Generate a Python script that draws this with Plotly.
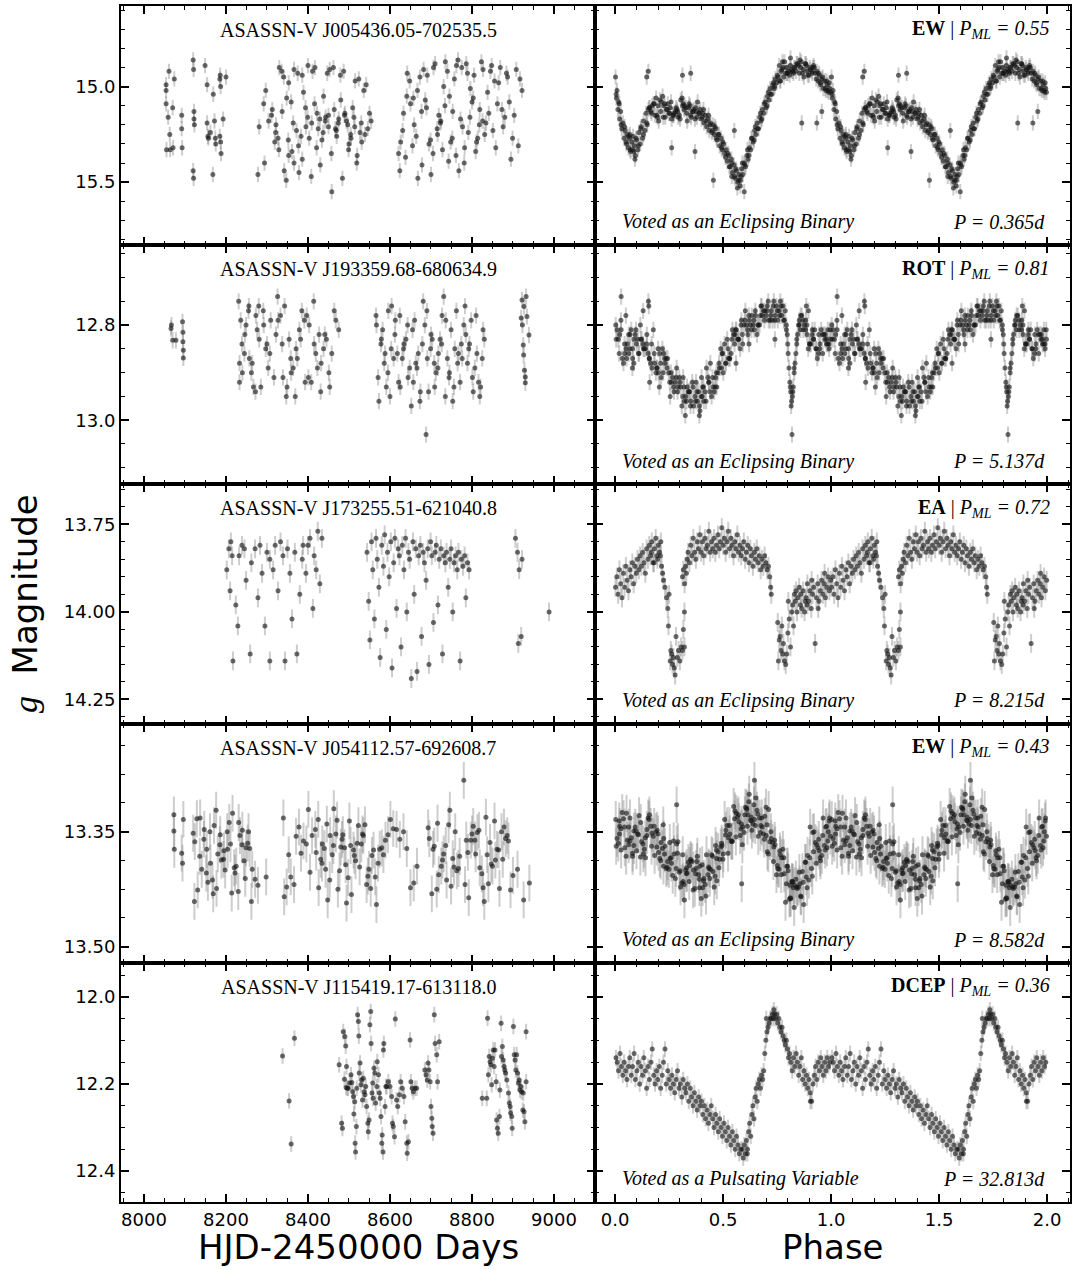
import plotly.graph_objects as go
from plotly.subplots import make_subplots

# ---------------- star 1 : EW, P = 0.365 d ----------------
hjd_1 = [
    8054, 8054, 8054, 8055, 8059, 8061, 8063, 8064, 8070, 8071,
    8074, 8092, 8092, 8093, 8120, 8121, 8122, 8122, 8123, 8121,
    8120, 8149, 8154, 8154, 8156, 8157, 8169, 8168, 8172, 8174,
    8175, 8185, 8186, 8187, 8185, 8187, 8188, 8193, 8200, 8162,
    8294, 8313, 8278, 8321, 8304, 8281, 8319, 8297, 8292, 8311,
    8341, 8329, 8347, 8322, 8336, 8348, 8327, 8342, 8330, 8337,
    8353, 8364, 8375, 8359, 8366, 8352, 8366, 8353, 8372, 8361,
    8399, 8386, 8378, 8394, 8383, 8400, 8389, 8377, 8395, 8386,
    8411, 8422, 8403, 8429, 8417, 8408, 8425, 8416, 8409, 8421,
    8447, 8437, 8450, 8430, 8442, 8453, 8434, 8450, 8438, 8443,
    8458, 8469, 8479, 8464, 8474, 8457, 8470, 8462, 8475, 8467,
    8500, 8490, 8484, 8497, 8487, 8504, 8494, 8480, 8499, 8489,
    8514, 8524, 8505, 8530, 8519, 8509, 8527, 8515, 8512, 8520,
    8546, 8536, 8554, 8531, 8542, 8550, 8539,
    8641, 8626, 8648, 8621, 8633, 8650, 8624, 8642, 8631, 8638,
    8657, 8668, 8682, 8664, 8677, 8655, 8673, 8659, 8678, 8667,
    8710, 8699, 8689, 8705, 8691, 8715, 8700, 8686, 8706, 8695,
    8724, 8735, 8716, 8743, 8731, 8719, 8740, 8728, 8723, 8734,
    8762, 8752, 8768, 8745, 8757, 8772, 8748, 8766, 8753, 8761,
    8777, 8789, 8800, 8782, 8795, 8775, 8791, 8781, 8796, 8786,
    8826, 8814, 8805, 8819, 8809, 8827, 8818, 8803, 8823, 8811,
    8841, 8855, 8831, 8862, 8848, 8834, 8858, 8845, 8838, 8851,
    8887, 8873, 8895, 8865, 8880, 8899, 8869, 8891, 8876, 8884,
    8913, 8922, 8903, 8917, 8908,
]
mag_1 = [
    14.99, 15.02, 15.09, 15.33, 15.16, 14.92, 15.25, 15.33, 15.11, 15.32,
    14.96, 15.15, 15.22, 15.32, 14.86, 14.91, 15.13, 15.17, 15.20, 15.48,
    15.44, 14.89, 14.99, 15.19, 15.26, 15.27, 15.04, 15.46, 15.18, 15.27,
    15.30, 14.96, 14.94, 15.00, 15.26, 15.29, 15.35, 15.17, 14.95, 15.24,
    15.40, 15.12, 15.46, 15.24, 15.18, 15.21, 15.29, 15.02, 15.09, 15.15,
    14.95, 15.33, 15.49, 15.20, 14.92, 15.06, 15.27, 15.44, 14.90, 15.13,
    15.36, 15.19, 14.93, 15.08, 15.40, 15.28, 14.91, 14.98, 15.23, 15.34,
    15.16, 14.94, 15.45, 15.11, 15.26, 14.89, 15.03, 15.31, 15.21, 15.38,
    14.92, 15.14, 15.27, 15.17, 14.90, 15.47, 15.22, 15.09, 15.19, 15.32,
    14.93, 15.24, 15.15, 15.41, 15.18, 14.91, 15.28, 15.21, 15.05, 15.16,
    15.55, 15.23, 14.94, 15.12, 15.19, 15.35, 15.26, 14.90, 15.17, 15.22,
    15.30, 15.14, 15.48, 15.20, 14.92, 15.25, 15.18, 15.07, 15.33, 15.15,
    15.21, 14.96, 15.27, 15.19, 15.40, 15.11, 15.24, 14.97, 15.16, 15.36,
    15.22, 15.02, 15.18, 15.29, 14.99, 15.14, 15.25,
    15.05, 15.29, 14.97, 15.35, 15.14, 15.09, 15.44, 14.93, 15.23, 15.37,
    15.06, 15.48, 14.91, 15.26, 15.13, 15.31, 14.95, 15.20, 15.41, 15.02,
    14.88, 15.28, 15.11, 15.35, 14.94, 15.22, 15.46, 15.07, 14.90, 15.30,
    15.18, 14.87, 15.25, 15.39, 15.00, 15.15, 14.92, 15.33, 15.19, 15.10,
    14.89, 15.27, 15.44, 15.05, 14.96, 15.17, 15.29, 14.86, 15.13, 15.36,
    15.21, 14.93, 15.08, 15.32, 15.16, 14.90, 15.24, 15.40, 15.01, 14.88,
    15.18, 15.27, 14.94, 15.12, 15.34, 14.91, 15.20, 15.06, 14.87, 15.29,
    15.14, 14.97, 15.25, 15.09, 14.89, 15.19, 15.32, 14.92, 15.03, 15.23,
    14.95, 15.12, 15.38, 14.98, 15.16, 15.27, 14.90, 15.08, 15.21, 14.93,
    15.31, 15.02, 15.15, 14.96, 14.91,
]
phase_1 = [
    0.002, 0.006, 0.009, 0.013, 0.017, 0.021, 0.026, 0.031, 0.036, 0.041,
    0.046, 0.051, 0.056, 0.062, 0.067, 0.072, 0.078, 0.083, 0.089, 0.094,
    0.099, 0.105, 0.110, 0.116, 0.121, 0.127, 0.132, 0.138, 0.143, 0.149,
    0.172, 0.196, 0.154, 0.208, 0.184, 0.160, 0.202, 0.178, 0.166, 0.190,
    0.250, 0.226, 0.262, 0.214, 0.238, 0.268, 0.220, 0.256, 0.232, 0.244,
    0.280, 0.304, 0.328, 0.292, 0.316, 0.274, 0.310, 0.286, 0.322, 0.298,
    0.382, 0.358, 0.340, 0.370, 0.346, 0.388, 0.364, 0.334, 0.376, 0.352,
    0.394, 0.400, 0.406, 0.412, 0.418, 0.424, 0.430, 0.436, 0.442, 0.448,
    0.454, 0.460, 0.466, 0.472, 0.478, 0.484, 0.490, 0.496, 0.502, 0.508,
    0.514, 0.520, 0.526, 0.532, 0.538, 0.544, 0.550, 0.556, 0.562, 0.568,
    0.574, 0.580, 0.586, 0.592, 0.598, 0.604, 0.610, 0.616, 0.622, 0.628,
    0.634, 0.640, 0.646, 0.652, 0.658, 0.664, 0.670, 0.676, 0.682, 0.688,
    0.694, 0.700, 0.706, 0.712, 0.718, 0.724, 0.730, 0.736, 0.742, 0.748,
    0.790, 0.766, 0.802, 0.754, 0.778, 0.808, 0.760, 0.796, 0.772, 0.784,
    0.820, 0.844, 0.868, 0.832, 0.856, 0.814, 0.850, 0.826, 0.862, 0.838,
    0.922, 0.898, 0.880, 0.910, 0.886, 0.928, 0.904, 0.874, 0.916, 0.892,
    0.934, 0.940, 0.946, 0.952, 0.958, 0.964, 0.970, 0.976, 0.982, 0.988,
    0.994, 0.262, 0.370, 0.455, 0.552, 0.864, 0.934, 0.957, 0.146, 0.312,
    0.350, 0.154, 0.598, 0.092, 0.070, 0.540, 0.566, 0.580, 0.775, 0.812,
    0.005, 0.019, 0.028, 0.044, 0.053, 0.069, 0.081, 0.097, 0.108, 0.119,
    0.131, 0.147, 0.158, 0.169, 0.181, 0.193, 0.199, 0.211, 0.223, 0.229,
    0.241, 0.253, 0.259, 0.271, 0.283, 0.289, 0.301, 0.313, 0.319, 0.331,
    0.343, 0.349, 0.361, 0.373, 0.379, 0.391, 0.403, 0.409, 0.421, 0.433,
    0.439, 0.451, 0.463, 0.469, 0.481, 0.493, 0.499, 0.511, 0.523, 0.529,
    0.541, 0.553, 0.559, 0.571, 0.583, 0.589, 0.601, 0.613, 0.619, 0.631,
    0.643, 0.649, 0.661, 0.673, 0.679, 0.691, 0.703, 0.709, 0.721, 0.733,
    0.739, 0.751, 0.763, 0.769, 0.781, 0.793, 0.799, 0.811, 0.823, 0.829,
    0.841, 0.853, 0.859, 0.871, 0.883, 0.889, 0.901, 0.913, 0.919, 0.931,
    0.943, 0.949, 0.961, 0.973, 0.979, 0.985, 0.991, 0.997, 0.063, 0.087,
]
phase_mag_1 = [
    14.95, 15.06, 15.02, 15.12, 15.08, 15.17, 15.13, 15.22, 15.19, 15.27,
    15.23, 15.29, 15.25, 15.32, 15.27, 15.34, 15.29, 15.26, 15.31, 15.36,
    15.28, 15.33, 15.24, 15.30, 15.21, 15.27, 15.18, 15.23, 15.14, 15.20,
    15.10, 15.16, 15.12, 15.07, 15.15, 15.11, 15.18, 15.09, 15.13, 15.06,
    15.14, 15.10, 15.17, 15.08, 15.12, 15.15, 15.05, 15.11, 15.16, 15.09,
    15.13, 15.07, 15.11, 15.16, 15.09, 15.14, 15.06, 15.12, 15.10, 15.15,
    15.08, 15.13, 15.11, 15.17, 15.10, 15.14, 15.12, 15.18, 15.13, 15.16,
    15.12, 15.17, 15.14, 15.19, 15.15, 15.21, 15.17, 15.23, 15.19, 15.24,
    15.20, 15.25, 15.22, 15.28, 15.25, 15.31, 15.27, 15.33, 15.30, 15.35,
    15.33, 15.39, 15.36, 15.42, 15.38, 15.45, 15.41, 15.48, 15.44, 15.50,
    15.46, 15.52, 15.43, 15.46, 15.40, 15.42, 15.36, 15.38, 15.32, 15.33,
    15.27, 15.29, 15.23, 15.25, 15.19, 15.22, 15.16, 15.18, 15.12, 15.14,
    15.08, 15.11, 15.05, 15.07, 15.01, 15.04, 14.99, 15.01, 14.96, 14.98,
    14.93, 14.97, 14.92, 14.95, 14.90, 14.94, 14.89, 14.93, 14.91, 14.87,
    14.92, 14.88, 14.93, 14.90, 14.86, 14.91, 14.89, 14.93, 14.87, 14.92,
    14.90, 14.94, 14.88, 14.92, 14.89, 14.93, 14.91, 14.95, 14.90, 14.94,
    14.92, 14.97, 14.94, 14.99, 14.96, 15.01, 14.97, 15.02, 14.99, 15.03,
    15.01, 15.32, 15.34, 15.49, 15.23, 15.19, 15.19, 15.13, 14.95, 14.94,
    14.93, 14.92, 15.55, 15.38, 15.33, 15.47, 15.53, 15.49, 14.87, 14.85,
    15.04, 15.09, 15.20, 15.21, 15.30, 15.25, 15.33, 15.27, 15.31, 15.22,
    15.25, 15.19, 15.11, 15.14, 15.09, 15.15, 15.10, 15.13, 15.16, 15.09,
    15.12, 15.14, 15.08, 15.15, 15.11, 15.13, 15.17, 15.10, 15.12, 15.14,
    15.09, 15.15, 15.13, 15.11, 15.16, 15.14, 15.16, 15.12, 15.18, 15.15,
    15.20, 15.23, 15.21, 15.27, 15.25, 15.32, 15.29, 15.37, 15.35, 15.42,
    15.40, 15.47, 15.43, 15.49, 15.47, 15.40, 15.41, 15.33, 15.36, 15.27,
    15.28, 15.21, 15.22, 15.14, 15.17, 15.09, 15.10, 15.03, 15.04, 14.98,
    15.00, 14.94, 14.97, 14.92, 14.95, 14.90, 14.93, 14.89, 14.92, 14.90,
    14.88, 14.93, 14.90, 14.91, 14.88, 14.92, 14.90, 14.93, 14.89, 14.96,
    14.93, 14.98, 14.95, 15.01, 14.97, 15.02, 14.98, 15.03, 15.26, 15.34,
]

# ---------------- star 2 : ROT, P = 5.137 d ----------------
hjd_2 = [
    8066, 8070, 8078, 8067, 8094, 8095, 8095, 8096, 8096,
    8233, 8240, 8255, 8236, 8246, 8231, 8245, 8233, 8249, 8239,
    8280, 8267, 8257, 8273, 8262, 8281, 8272, 8256, 8276, 8264,
    8297, 8309, 8285, 8322, 8303, 8291, 8317, 8300, 8292, 8307,
    8347, 8333, 8354, 8326, 8339, 8358, 8327, 8349, 8337, 8343,
    8364, 8379, 8393, 8371, 8385, 8359, 8382, 8369, 8391, 8374,
    8427, 8414, 8401, 8419, 8403, 8431, 8415, 8397, 8423, 8408,
    8445, 8464, 8432, 8475, 8453, 8438, 8468, 8451, 8441, 8458,
    8582, 8571, 8588, 8566, 8578, 8591, 8567, 8586, 8573, 8579,
    8596, 8609, 8621, 8603, 8613, 8595, 8612, 8600, 8618, 8604,
    8648, 8634, 8625, 8643, 8630, 8652, 8639, 8624, 8644, 8633,
    8663, 8674, 8655, 8681, 8669, 8657, 8679, 8666, 8660, 8673,
    8703, 8691, 8709, 8685, 8699, 8712, 8690, 8708, 8694, 8700,
    8718, 8731, 8744, 8726, 8736, 8717, 8735, 8722, 8740, 8727,
    8771, 8758, 8749, 8765, 8753, 8774, 8762, 8745, 8767, 8756,
    8785, 8798, 8776, 8803, 8792, 8780, 8801, 8789, 8783, 8794,
    8821, 8812, 8827, 8807, 8819, 8830, 8810, 8825, 8816, 8688,
    8920, 8922, 8923, 8925, 8926, 8927, 8928, 8930, 8930, 8932, 8934, 8939,
]
mag_2 = [
    12.807, 12.832, 12.832, 12.800, 12.793, 12.815, 12.835, 12.853, 12.869,
    12.88, 12.90, 12.77, 12.79, 12.82, 12.75, 12.86, 12.92, 12.80, 12.84,
    12.76, 12.93, 12.87, 12.78, 12.90, 12.83, 12.94, 12.76, 12.81, 12.88,
    12.85, 12.79, 12.93, 12.82, 12.89, 12.77, 12.91, 12.84, 12.80, 12.86,
    12.95, 12.78, 12.83, 12.74, 12.91, 12.87, 12.79, 12.93, 12.84, 12.76,
    12.89, 12.81, 12.92, 12.85, 12.77, 12.90, 12.83, 12.95, 12.79, 12.87,
    12.82, 12.75, 12.91, 12.86, 12.80, 12.94, 12.84, 12.78, 12.89, 12.92,
    12.83, 12.77, 12.88, 12.81, 12.93, 12.85, 12.79, 12.90, 12.82, 12.86,
    12.81, 12.91, 12.86, 12.78, 12.84, 12.93, 12.80, 12.88, 12.96, 12.83,
    12.77, 12.87, 12.92, 12.85, 12.79, 12.90, 12.82, 12.95, 12.86, 12.76,
    12.89, 12.84, 12.93, 12.80, 12.87, 12.97, 12.83, 12.78, 12.91, 12.85,
    12.88, 12.94, 12.81, 12.75, 12.86, 12.92, 12.84, 12.89, 12.79, 12.96,
    12.83, 12.87, 12.93, 12.80, 12.85, 12.90, 12.77, 12.88, 12.94, 12.82,
    12.86, 12.74, 12.91, 12.84, 12.79, 12.89, 12.95, 12.83, 12.87, 12.78,
    12.92, 12.85, 12.81, 12.88, 12.96, 12.84, 12.77, 12.90, 12.86, 12.93,
    12.82, 12.79, 12.87, 12.94, 12.85, 12.80, 12.91, 12.88, 12.76, 12.84,
    12.93, 12.86, 12.81, 12.89, 12.95, 12.83, 12.78, 12.87, 12.92, 13.03,
    12.785, 12.747, 12.800, 12.842, 12.863, 12.761, 12.895, 12.909, 12.921, 12.740, 12.782, 12.821,
]
phase_2 = [
    0.021, 0.045, 0.003, 0.057, 0.033, 0.009, 0.051, 0.027, 0.015, 0.039,
    0.099, 0.075, 0.111, 0.063, 0.087, 0.117, 0.069, 0.105, 0.081, 0.093,
    0.129, 0.153, 0.177, 0.141, 0.165, 0.123, 0.159, 0.135, 0.171, 0.147,
    0.231, 0.207, 0.189, 0.219, 0.195, 0.237, 0.213, 0.183, 0.225, 0.201,
    0.261, 0.285, 0.243, 0.297, 0.273, 0.249, 0.291, 0.267, 0.255, 0.279,
    0.339, 0.315, 0.351, 0.303, 0.327, 0.357, 0.309, 0.345, 0.321, 0.333,
    0.369, 0.393, 0.417, 0.381, 0.405, 0.363, 0.399, 0.375, 0.411, 0.387,
    0.471, 0.447, 0.429, 0.459, 0.435, 0.477, 0.453, 0.423, 0.465, 0.441,
    0.501, 0.525, 0.483, 0.537, 0.513, 0.489, 0.531, 0.507, 0.495, 0.519,
    0.579, 0.555, 0.591, 0.543, 0.567, 0.597, 0.549, 0.585, 0.561, 0.573,
    0.609, 0.633, 0.657, 0.621, 0.645, 0.603, 0.639, 0.615, 0.651, 0.627,
    0.711, 0.687, 0.669, 0.699, 0.675, 0.717, 0.693, 0.663, 0.705, 0.681,
    0.723, 0.729, 0.735, 0.741, 0.747, 0.753, 0.759, 0.765, 0.771, 0.777,
    0.783, 0.788, 0.793, 0.797, 0.801, 0.805, 0.809, 0.813, 0.817, 0.821,
    0.825, 0.829, 0.833, 0.837, 0.841, 0.845, 0.849, 0.853, 0.858, 0.864,
    0.888, 0.912, 0.870, 0.924, 0.900, 0.876, 0.918, 0.894, 0.882, 0.906,
    0.966, 0.942, 0.978, 0.930, 0.954, 0.984, 0.936, 0.972, 0.948, 0.960,
    0.990, 0.996, 0.028, 0.154, 0.156, 0.130, 0.160, 0.819, 0.815, 0.205,
    0.325, 0.390, 0.400, 0.560, 0.740, 0.885, 0.895, 0.080, 0.050, 0.620,
    0.005, 0.019, 0.028, 0.044, 0.053, 0.069, 0.081, 0.097, 0.108, 0.119,
    0.131, 0.147, 0.158, 0.169, 0.181, 0.193, 0.199, 0.211, 0.223, 0.229,
    0.241, 0.253, 0.259, 0.271, 0.283, 0.289, 0.301, 0.313, 0.319, 0.331,
    0.343, 0.349, 0.361, 0.373, 0.379, 0.391, 0.403, 0.409, 0.421, 0.433,
    0.439, 0.451, 0.463, 0.469, 0.481, 0.493, 0.499, 0.511, 0.523, 0.529,
    0.541, 0.553, 0.559, 0.571, 0.583, 0.589, 0.601, 0.613, 0.619, 0.631,
    0.643, 0.649, 0.661, 0.673, 0.679, 0.691, 0.703, 0.709, 0.721, 0.733,
    0.739, 0.751, 0.763, 0.769, 0.781, 0.793, 0.799, 0.811, 0.823, 0.829,
    0.841, 0.853, 0.859, 0.871, 0.883, 0.889, 0.901, 0.913, 0.919, 0.931,
    0.943, 0.949, 0.961, 0.973, 0.979, 0.985, 0.991, 0.997, 0.063, 0.087,
]
phase_mag_2 = [
    12.82, 12.86, 12.80, 12.84, 12.87, 12.81, 12.85, 12.79, 12.83, 12.88,
    12.84, 12.81, 12.86, 12.82, 12.88, 12.80, 12.85, 12.83, 12.87, 12.82,
    12.84, 12.86, 12.81, 12.85, 12.88, 12.83, 12.87, 12.85, 12.89, 12.84,
    12.88, 12.86, 12.90, 12.85, 12.89, 12.87, 12.91, 12.88, 12.86, 12.90,
    12.92, 12.89, 12.87, 12.91, 12.94, 12.90, 12.93, 12.91, 12.95, 12.92,
    12.94, 12.91, 12.96, 12.93, 12.95, 12.92, 12.97, 12.94, 12.96, 12.93,
    12.95, 12.98, 12.94, 12.96, 12.93, 12.97, 12.95, 12.92, 12.96, 12.94,
    12.93, 12.95, 12.91, 12.94, 12.92, 12.90, 12.93, 12.89, 12.91, 12.88,
    12.90, 12.87, 12.89, 12.86, 12.88, 12.85, 12.87, 12.84, 12.86, 12.83,
    12.85, 12.82, 12.84, 12.81, 12.83, 12.80, 12.82, 12.79, 12.81, 12.83,
    12.80, 12.78, 12.82, 12.79, 12.81, 12.77, 12.80, 12.82, 12.78, 12.80,
    12.79, 12.77, 12.80, 12.78, 12.76, 12.79, 12.77, 12.80, 12.76, 12.78,
    12.77, 12.79, 12.75, 12.78, 12.76, 12.79, 12.77, 12.75, 12.78, 12.76,
    12.79, 12.77, 12.80, 12.82, 12.86, 12.89, 12.92, 12.94, 12.96, 12.95,
    12.93, 12.90, 12.88, 12.86, 12.84, 12.82, 12.80, 12.79, 12.81, 12.78,
    12.80, 12.82, 12.79, 12.81, 12.84, 12.80, 12.83, 12.85, 12.81, 12.84,
    12.82, 12.86, 12.83, 12.85, 12.81, 12.84, 12.87, 12.83, 12.85, 12.82,
    12.84, 12.81, 12.74, 12.75, 12.76, 12.77, 12.92, 13.03, 12.97, 12.93,
    12.99, 12.99, 12.91, 12.88, 12.83, 12.76, 12.77, 12.89, 12.78, 12.84,
    12.83, 12.86, 12.81, 12.84, 12.87, 12.82, 12.85, 12.81, 12.86, 12.83,
    12.85, 12.82, 12.87, 12.84, 12.86, 12.89, 12.85, 12.88, 12.90, 12.87,
    12.89, 12.92, 12.90, 12.93, 12.91, 12.94, 12.92, 12.95, 12.93, 12.96,
    12.94, 12.97, 12.93, 12.96, 12.94, 12.97, 12.95, 12.93, 12.96, 12.92,
    12.94, 12.91, 12.93, 12.90, 12.88, 12.89, 12.86, 12.88, 12.85, 12.87,
    12.83, 12.84, 12.81, 12.83, 12.80, 12.82, 12.79, 12.81, 12.78, 12.81,
    12.79, 12.77, 12.80, 12.78, 12.76, 12.79, 12.77, 12.75, 12.78, 12.76,
    12.79, 12.77, 12.78, 12.76, 12.79, 12.81, 12.84, 12.93, 12.94, 12.89,
    12.83, 12.80, 12.78, 12.81, 12.79, 12.82, 12.84, 12.81, 12.83, 12.85,
    12.82, 12.84, 12.86, 12.82, 12.84, 12.81, 12.85, 12.83, 12.86, 12.83,
]

# ---------------- star 3 : EA, P = 8.215 d ----------------
hjd_3 = [
    8202, 8207, 8210, 8215, 8217, 8224, 8229, 8239, 8249, 8259,
    8271, 8278, 8288, 8295, 8307, 8307, 8320, 8327, 8339, 8344,
    8356, 8361, 8368, 8373, 8380, 8388, 8395, 8405, 8412, 8420,
    8424, 8429, 8434, 8212, 8232, 8245, 8262, 8283, 8300, 8315,
    8333, 8350, 8386, 8400, 8415,
    8544, 8548, 8551, 8555, 8558, 8562, 8566, 8569, 8573, 8576,
    8580, 8584, 8587, 8591, 8594, 8598, 8602, 8605, 8609, 8612,
    8616, 8620, 8623, 8627, 8630, 8634, 8638, 8641, 8645, 8648,
    8652, 8656, 8659, 8663, 8666, 8670, 8674, 8677, 8681, 8684,
    8688, 8692, 8695, 8699, 8702, 8706, 8710, 8713, 8717, 8720,
    8724, 8728, 8731, 8735, 8738, 8742, 8746, 8749, 8753, 8756,
    8760, 8764, 8767, 8771, 8774, 8778, 8782, 8785, 8789, 8793,
    8906, 8911, 8915, 8913, 8920, 8922, 8988,
]
mag_3 = [
    13.88, 13.82, 13.94, 13.84, 14.14, 13.98, 14.04, 13.81, 13.91, 14.12,
    13.82, 13.96, 13.89, 14.04, 13.85, 14.14, 13.81, 13.94, 13.84, 14.14,
    13.89, 14.02, 13.83, 14.12, 13.95, 13.81, 13.89, 13.79, 13.99, 13.88,
    13.77, 13.92, 13.79, 13.80, 13.84, 13.82, 13.86, 13.81, 13.83, 13.88,
    13.80, 13.82, 13.85, 13.81, 13.84,
    13.83, 13.97, 14.08, 13.80, 13.88, 14.02, 13.79, 13.85, 13.93, 14.13,
    13.81, 13.87, 13.78, 14.05, 13.83, 13.90, 13.80, 14.16, 13.86, 13.79,
    13.99, 13.82, 13.84, 14.10, 13.81, 13.88, 13.79, 14.00, 13.83, 13.85,
    14.19, 13.80, 13.95, 13.82, 14.17, 13.84, 13.81, 14.07, 13.83, 13.86,
    13.91, 13.82, 14.15, 13.80, 13.84, 14.03, 13.83, 13.81, 13.98, 13.85,
    13.82, 14.12, 13.84, 13.86, 13.83, 13.93, 13.85, 13.82, 14.00, 13.86,
    13.84, 13.88, 13.83, 14.14, 13.85, 13.87, 13.84, 13.96, 13.86, 13.88,
    13.79, 13.83, 13.88, 14.09, 14.07, 13.85, 14.00,
]
phase_3 = [
    0.002, 0.008, 0.014, 0.020, 0.026, 0.032, 0.038, 0.044, 0.050, 0.056,
    0.062, 0.068, 0.074, 0.080, 0.086, 0.092, 0.098, 0.104, 0.110, 0.116,
    0.122, 0.128, 0.134, 0.140, 0.146, 0.152, 0.158, 0.164, 0.170, 0.176,
    0.182, 0.188, 0.194, 0.200, 0.206, 0.212, 0.180, 0.168, 0.196, 0.210,
    0.215, 0.220, 0.224, 0.231, 0.238, 0.244, 0.247, 0.250, 0.255, 0.258,
    0.262, 0.266, 0.270, 0.274, 0.278, 0.282, 0.288, 0.294, 0.300, 0.306,
    0.312, 0.316, 0.321, 0.321, 0.312, 0.316, 0.322, 0.326, 0.330, 0.334,
    0.338, 0.344, 0.350, 0.356, 0.362, 0.368, 0.374, 0.380, 0.386, 0.392,
    0.398, 0.404, 0.410, 0.416, 0.422, 0.428, 0.434, 0.440, 0.446, 0.452,
    0.458, 0.464, 0.470, 0.476, 0.482, 0.488, 0.494, 0.500, 0.506, 0.512,
    0.518, 0.524, 0.530, 0.536, 0.542, 0.548, 0.554, 0.560, 0.566, 0.572,
    0.578, 0.584, 0.590, 0.596, 0.602, 0.608, 0.614, 0.620, 0.626, 0.632,
    0.638, 0.644, 0.650, 0.656, 0.662, 0.668, 0.674, 0.680, 0.686, 0.692,
    0.698, 0.704, 0.710, 0.716, 0.720, 0.723, 0.753, 0.756, 0.760, 0.764,
    0.768, 0.772, 0.776, 0.779, 0.784, 0.790, 0.795, 0.800, 0.802, 0.806,
    0.812, 0.818, 0.822, 0.826, 0.830, 0.834, 0.838, 0.842, 0.846, 0.852,
    0.858, 0.864, 0.870, 0.877, 0.884, 0.890, 0.896, 0.902, 0.908, 0.914,
    0.920, 0.926, 0.932, 0.938, 0.944, 0.950, 0.956, 0.962, 0.968, 0.974,
    0.980, 0.986, 0.992, 0.998, 0.860, 0.890, 0.940, 0.970, 0.910, 0.880,
]
phase_mag_3 = [
    13.93, 13.90, 13.95, 13.88, 13.92, 13.96, 13.89, 13.93, 13.87, 13.91,
    13.94, 13.88, 13.90, 13.86, 13.92, 13.87, 13.89, 13.85, 13.88, 13.84,
    13.87, 13.83, 13.86, 13.89, 13.82, 13.85, 13.81, 13.84, 13.80, 13.86,
    13.82, 13.79, 13.84, 13.81, 13.83, 13.80, 13.86, 13.83, 13.85, 13.84,
    13.87, 13.89, 13.91, 13.93, 13.96, 13.99, 14.04, 13.95, 14.14, 14.11,
    14.12, 14.15, 14.13, 14.16, 14.18, 14.07, 14.13, 14.11, 14.14, 14.10,
    14.11, 14.05, 14.10, 14.00, 13.90, 13.88, 13.92, 13.87, 13.89, 13.85,
    13.83, 13.86, 13.81, 13.84, 13.79, 13.83, 13.85, 13.80, 13.82, 13.78,
    13.83, 13.80, 13.84, 13.79, 13.82, 13.81, 13.77, 13.83, 13.80, 13.82,
    13.79, 13.83, 13.81, 13.78, 13.82, 13.80, 13.76, 13.81, 13.79, 13.83,
    13.80, 13.77, 13.82, 13.79, 13.81, 13.84, 13.80, 13.82, 13.78, 13.83,
    13.81, 13.84, 13.82, 13.80, 13.85, 13.83, 13.81, 13.86, 13.82, 13.84,
    13.87, 13.83, 13.85, 13.82, 13.86, 13.84, 13.88, 13.85, 13.87, 13.84,
    13.86, 13.88, 13.87, 13.90, 13.93, 13.95, 14.03, 14.14, 14.08, 14.07,
    14.11, 14.04, 14.12, 14.09, 14.14, 14.15, 14.12, 14.06, 13.97, 14.02,
    14.10, 14.00, 13.98, 14.04, 13.95, 13.97, 13.94, 14.00, 13.96, 13.93,
    13.98, 13.99, 13.94, 14.00, 13.96, 13.92, 13.97, 13.94, 13.99, 13.95,
    13.93, 14.09, 13.96, 13.92, 13.97, 13.94, 13.91, 13.95, 13.92, 13.96,
    13.93, 13.90, 13.94, 13.91, 13.95, 13.98, 13.99, 13.89, 13.91, 13.97,
]

# ---------------- star 4 : EW, P = 8.582 d ----------------
hjd_4 = [
    8073, 8073, 8074, 8092, 8094, 8096, 8120, 8123, 8124, 8129,
    8141, 8153, 8131, 8161, 8147, 8136, 8156, 8146, 8137, 8152,
    8180, 8169, 8186, 8162, 8176, 8189, 8167, 8185, 8171, 8177,
    8195, 8208, 8220, 8203, 8214, 8194, 8211, 8198, 8216, 8204,
    8247, 8234, 8225, 8240, 8230, 8249, 8239, 8222, 8244, 8231,
    8262, 8253, 8271, 8255, 8264, 8258, 8278, 8298,
    8371, 8348, 8383, 8340, 8358, 8389, 8342, 8378, 8353, 8366,
    8401, 8420, 8434, 8410, 8426, 8396, 8425, 8405, 8431, 8418,
    8462, 8448, 8440, 8454, 8443, 8463, 8453, 8435, 8459, 8446,
    8477, 8489, 8468, 8494, 8483, 8471, 8492, 8480, 8473, 8485,
    8516, 8504, 8523, 8498, 8511, 8526, 8501, 8520, 8506, 8513,
    8533, 8546, 8560, 8539, 8553, 8530, 8549, 8535, 8556, 8543,
    8601, 8580, 8567, 8589, 8571, 8608, 8584, 8564, 8595, 8575,
    8650, 8624, 8666, 8616, 8641, 8658, 8633,
    8705, 8719, 8693, 8728, 8714, 8696, 8725, 8708, 8702, 8716,
    8753, 8738, 8759, 8731, 8746, 8763, 8736, 8756, 8743, 8749,
    8790, 8800, 8780, 8767, 8797, 8783, 8803, 8770, 8792, 8786,
    8834, 8819, 8809, 8827, 8813, 8837, 8824, 8807, 8830, 8817,
    8850, 8865, 8840, 8872, 8857, 8844, 8867, 8855, 8847, 8861,
    8900, 8882, 8926, 8875, 8889, 8940, 8878, 8911, 8886, 8894,
]
mag_4 = [
    13.328, 13.349, 13.373, 13.378, 13.391, 13.334, 13.352, 13.441, 13.363, 13.333,
    13.399, 13.373, 13.426, 13.350, 13.347, 13.382, 13.416, 13.360, 13.332, 13.404,
    13.379, 13.431, 13.354, 13.391, 13.322, 13.387, 13.413, 13.367, 13.342, 13.424,
    13.375, 13.338, 13.397, 13.350, 13.430, 13.386, 13.366, 13.400, 13.326, 13.373,
    13.411, 13.355, 13.395, 13.348, 13.428, 13.371, 13.367, 13.404, 13.388, 13.338,
    13.441, 13.365, 13.412, 13.350, 13.399, 13.372, 13.420, 13.409,
    13.356, 13.422, 13.378, 13.332, 13.409, 13.362, 13.435, 13.344, 13.380, 13.419,
    13.321, 13.377, 13.391, 13.355, 13.423, 13.366, 13.334, 13.403, 13.386, 13.347,
    13.368, 13.439, 13.372, 13.355, 13.399, 13.320, 13.413, 13.366, 13.380, 13.340,
    13.401, 13.371, 13.353, 13.443, 13.360, 13.335, 13.393, 13.370, 13.425, 13.354,
    13.388, 13.368, 13.342, 13.410, 13.374, 13.396, 13.336, 13.365, 13.432, 13.381,
    13.353, 13.408, 13.374, 13.341, 13.424, 13.366, 13.399, 13.355, 13.381, 13.419,
    13.334, 13.371, 13.445, 13.361, 13.391, 13.346, 13.380, 13.409, 13.354, 13.373,
    13.423, 13.360, 13.395, 13.347, 13.372, 13.417, 13.350,
    13.373, 13.406, 13.345, 13.387, 13.425, 13.359, 13.395, 13.369, 13.431, 13.339,
    13.385, 13.413, 13.350, 13.379, 13.322, 13.401, 13.368, 13.396, 13.341, 13.421,
    13.377, 13.353, 13.283, 13.398, 13.361, 13.419, 13.343, 13.382, 13.436, 13.361,
    13.331, 13.397, 13.379, 13.423, 13.351, 13.380, 13.405, 13.361, 13.441, 13.348,
    13.395, 13.374, 13.418, 13.350, 13.387, 13.364, 13.424, 13.336, 13.392, 13.373,
    13.407, 13.359, 13.439, 13.386, 13.362, 13.417, 13.344, 13.399, 13.355, 13.426,
]
phase_4 = [
    0.021, 0.045, 0.003, 0.057, 0.033, 0.009, 0.051, 0.027, 0.015, 0.039,
    0.099, 0.075, 0.111, 0.063, 0.087, 0.117, 0.069, 0.105, 0.081, 0.093,
    0.129, 0.153, 0.177, 0.141, 0.165, 0.123, 0.159, 0.135, 0.171, 0.147,
    0.231, 0.207, 0.189, 0.219, 0.195, 0.237, 0.213, 0.183, 0.225, 0.201,
    0.261, 0.285, 0.243, 0.297, 0.273, 0.249, 0.291, 0.267, 0.255, 0.279,
    0.339, 0.315, 0.351, 0.303, 0.327, 0.357, 0.309, 0.345, 0.321, 0.333,
    0.369, 0.393, 0.417, 0.381, 0.405, 0.363, 0.399, 0.375, 0.411, 0.387,
    0.471, 0.447, 0.429, 0.459, 0.435, 0.477, 0.453, 0.423, 0.465, 0.441,
    0.501, 0.525, 0.483, 0.537, 0.513, 0.489, 0.531, 0.507, 0.495, 0.519,
    0.579, 0.555, 0.591, 0.543, 0.567, 0.597, 0.549, 0.585, 0.561, 0.573,
    0.609, 0.633, 0.657, 0.621, 0.645, 0.603, 0.639, 0.615, 0.651, 0.627,
    0.711, 0.687, 0.669, 0.699, 0.675, 0.717, 0.693, 0.663, 0.705, 0.681,
    0.741, 0.765, 0.723, 0.777, 0.753, 0.729, 0.771, 0.747, 0.735, 0.759,
    0.819, 0.795, 0.831, 0.783, 0.807, 0.837, 0.789, 0.825, 0.801, 0.813,
    0.849, 0.873, 0.897, 0.861, 0.885, 0.843, 0.879, 0.855, 0.891, 0.867,
    0.951, 0.927, 0.909, 0.939, 0.915, 0.957, 0.933, 0.903, 0.945, 0.921,
    0.963, 0.969, 0.975, 0.981, 0.987, 0.993, 0.645, 0.285, 0.586, 0.224,
    0.020, 0.140, 0.330, 0.390, 0.610, 0.630, 0.810, 0.820, 0.470, 0.700,
    0.005, 0.019, 0.028, 0.044, 0.053, 0.069, 0.081, 0.097, 0.108, 0.119,
    0.131, 0.147, 0.158, 0.169, 0.181, 0.193, 0.199, 0.211, 0.223, 0.229,
    0.241, 0.253, 0.259, 0.271, 0.283, 0.289, 0.301, 0.313, 0.319, 0.331,
    0.343, 0.349, 0.361, 0.373, 0.379, 0.391, 0.403, 0.409, 0.421, 0.433,
    0.439, 0.451, 0.463, 0.469, 0.481, 0.493, 0.499, 0.511, 0.523, 0.529,
    0.541, 0.553, 0.559, 0.571, 0.583, 0.589, 0.601, 0.613, 0.619, 0.631,
    0.643, 0.649, 0.661, 0.673, 0.679, 0.691, 0.703, 0.709, 0.721, 0.733,
    0.739, 0.751, 0.763, 0.769, 0.781, 0.793, 0.799, 0.811, 0.823, 0.829,
    0.841, 0.853, 0.859, 0.871, 0.883, 0.889, 0.901, 0.913, 0.919, 0.931,
    0.943, 0.949, 0.961, 0.973, 0.979, 0.985, 0.991, 0.997, 0.063, 0.087,
]
phase_mag_4 = [
    13.343, 13.371, 13.334, 13.361, 13.325, 13.359, 13.382, 13.346, 13.365, 13.333,
    13.375, 13.358, 13.329, 13.367, 13.349, 13.383, 13.332, 13.353, 13.378, 13.344,
    13.366, 13.332, 13.356, 13.384, 13.343, 13.363, 13.328, 13.373, 13.352, 13.347,
    13.369, 13.385, 13.350, 13.372, 13.348, 13.398, 13.364, 13.381, 13.359, 13.377,
    13.391, 13.366, 13.389, 13.403, 13.379, 13.399, 13.363, 13.407, 13.385, 13.411,
    13.390, 13.415, 13.388, 13.422, 13.400, 13.389, 13.417, 13.394, 13.439, 13.404,
    13.424, 13.395, 13.419, 13.382, 13.423, 13.400, 13.437, 13.398, 13.411, 13.406,
    13.414, 13.380, 13.406, 13.422, 13.398, 13.376, 13.402, 13.380, 13.368, 13.399,
    13.379, 13.358, 13.386, 13.362, 13.348, 13.370, 13.353, 13.334, 13.368, 13.342,
    13.355, 13.323, 13.344, 13.362, 13.331, 13.351, 13.317, 13.340, 13.326, 13.337,
    13.319, 13.348, 13.322, 13.301, 13.334, 13.318, 13.340, 13.328, 13.306, 13.335,
    13.321, 13.353, 13.332, 13.318, 13.342, 13.363, 13.330, 13.356, 13.376, 13.344,
    13.367, 13.380, 13.359, 13.373, 13.398, 13.364, 13.384, 13.406, 13.370, 13.399,
    13.415, 13.395, 13.420, 13.405, 13.438, 13.412, 13.442, 13.423, 13.401, 13.437,
    13.422, 13.445, 13.413, 13.435, 13.409, 13.424, 13.390, 13.418, 13.381, 13.402,
    13.388, 13.364, 13.398, 13.371, 13.351, 13.381, 13.367, 13.344, 13.375, 13.350,
    13.332, 13.368, 13.344, 13.371, 13.350, 13.332, 13.283, 13.315, 13.418, 13.395,
    13.353, 13.358, 13.405, 13.412, 13.321, 13.331, 13.420, 13.415, 13.385, 13.355,
    13.369, 13.336, 13.374, 13.344, 13.326, 13.362, 13.382, 13.349, 13.354, 13.338,
    13.379, 13.355, 13.334, 13.369, 13.343, 13.370, 13.353, 13.388, 13.341, 13.379,
    13.396, 13.364, 13.384, 13.362, 13.398, 13.378, 13.401, 13.380, 13.419, 13.397,
    13.415, 13.386, 13.426, 13.405, 13.389, 13.423, 13.393, 13.414, 13.434, 13.396,
    13.411, 13.382, 13.408, 13.374, 13.397, 13.365, 13.386, 13.354, 13.378, 13.342,
    13.363, 13.333, 13.357, 13.328, 13.346, 13.367, 13.328, 13.343, 13.311, 13.336,
    13.315, 13.342, 13.327, 13.351, 13.332, 13.360, 13.341, 13.379, 13.350, 13.389,
    13.361, 13.394, 13.375, 13.406, 13.384, 13.418, 13.395, 13.436, 13.416, 13.449,
    13.422, 13.403, 13.434, 13.416, 13.390, 13.423, 13.384, 13.408, 13.376, 13.391,
    13.360, 13.384, 13.355, 13.374, 13.343, 13.362, 13.336, 13.356, 13.344, 13.368,
]

# ---------------- star 5 : DCEP, P = 32.813 d ----------------
hjd_5 = [
    8338, 8354, 8359, 8367,
    8476, 8482, 8484, 8486, 8489, 8490, 8492, 8493, 8494, 8496,
    8498, 8502, 8505, 8507, 8509, 8511, 8512, 8514, 8515, 8516,
    8518, 8519, 8521, 8523, 8524, 8525, 8527, 8529, 8531, 8533,
    8535, 8537, 8539, 8541, 8543, 8546, 8547, 8549, 8551, 8553,
    8554, 8556, 8558, 8559, 8561, 8563, 8565, 8568, 8569, 8572,
    8574, 8576, 8578, 8580, 8581, 8583, 8584, 8585, 8588, 8590,
    8592, 8596, 8600, 8604, 8606, 8608, 8611, 8613, 8616, 8619,
    8623, 8626, 8630, 8634, 8637, 8641, 8642, 8645, 8649, 8651,
    8654, 8657, 8661, 8665, 8685, 8688, 8691, 8693, 8695, 8698,
    8700, 8702, 8703, 8705, 8708, 8710, 8714, 8716, 8720,
    8825, 8836, 8838, 8840, 8842, 8844, 8846, 8848, 8850, 8852,
    8854, 8856, 8859, 8860, 8862, 8864, 8867, 8868, 8871, 8872,
    8874, 8876, 8878, 8880, 8882, 8885, 8889, 8891, 8893, 8894,
    8897, 8898, 8901, 8903, 8905, 8907, 8909, 8911, 8913, 8915,
    8917, 8919, 8921, 8924, 8925, 8927, 8929, 8932, 8932,
]
mag_5 = [
    12.136, 12.239, 12.338, 12.095,
    12.156, 12.290, 12.302, 12.080, 12.189, 12.091, 12.113, 12.208, 12.160, 12.210,
    12.210, 12.198, 12.179, 12.197, 12.218, 12.229, 12.269, 12.241, 12.336, 12.356,
    12.298, 12.210, 12.041, 12.057, 12.090, 12.175, 12.152, 12.202, 12.191, 12.237,
    12.187, 12.218, 12.225, 12.206, 12.252, 12.290, 12.310, 12.283, 12.064, 12.034,
    12.107, 12.221, 12.198, 12.233, 12.164, 12.175, 12.244, 12.206, 12.149, 12.179,
    12.221, 12.233, 12.275, 12.336, 12.317, 12.356, 12.122, 12.107, 12.252, 12.206,
    12.206, 12.195, 12.206, 12.229, 12.290, 12.298, 12.321, 12.051, 12.237, 12.252,
    12.225, 12.195, 12.210, 12.229, 12.287, 12.336, 12.359, 12.333, 12.099, 12.195,
    12.210, 12.218, 12.210, 12.210, 12.168, 12.179, 12.191, 12.152, 12.168, 12.195,
    12.252, 12.279, 12.298, 12.313, 12.041, 12.107, 12.133, 12.195, 12.103,
    12.233, 12.233, 12.049, 12.179, 12.137, 12.149, 12.156, 12.202, 12.141, 12.122,
    12.160, 12.122, 12.195, 12.283, 12.302, 12.313, 12.275, 12.214, 12.061, 12.137,
    12.114, 12.145, 12.160, 12.168, 12.175, 12.191, 12.221, 12.244, 12.252, 12.267,
    12.275, 12.302, 12.068, 12.133, 12.145, 12.168, 12.133, 12.175, 12.198, 12.191,
    12.214, 12.206, 12.218, 12.260, 12.221, 12.264, 12.287, 12.080, 12.195,
]
phase_5 = [
    0.004, 0.010, 0.016, 0.023, 0.029, 0.036, 0.042, 0.049, 0.055, 0.062,
    0.068, 0.075, 0.081, 0.088, 0.094, 0.101, 0.107, 0.114, 0.120, 0.127,
    0.133, 0.140, 0.146, 0.153, 0.159, 0.166, 0.172, 0.179, 0.185, 0.192,
    0.198, 0.205, 0.211, 0.218, 0.224, 0.231, 0.237, 0.244, 0.250, 0.257,
    0.263, 0.270, 0.276, 0.283, 0.289, 0.296, 0.302, 0.309, 0.315, 0.322,
    0.328, 0.335, 0.341, 0.348, 0.354, 0.361, 0.367, 0.374, 0.380, 0.387,
    0.393, 0.400, 0.406, 0.413, 0.419, 0.426, 0.432, 0.439, 0.445, 0.452,
    0.458, 0.465, 0.471, 0.478, 0.484, 0.491, 0.497, 0.504, 0.510, 0.517,
    0.523, 0.530, 0.536, 0.543, 0.549, 0.556, 0.562, 0.569, 0.575, 0.582,
    0.588, 0.593, 0.598, 0.603, 0.608, 0.613, 0.618, 0.623, 0.628, 0.633,
    0.638, 0.643, 0.648, 0.653, 0.658, 0.663, 0.668, 0.673, 0.678, 0.683,
    0.688, 0.693, 0.698, 0.703, 0.708, 0.713, 0.718, 0.723, 0.728, 0.733,
    0.738, 0.743, 0.748, 0.753, 0.758, 0.763, 0.768, 0.773, 0.778, 0.783,
    0.788, 0.793, 0.798, 0.803, 0.808, 0.814, 0.820, 0.826, 0.832, 0.838,
    0.844, 0.850, 0.856, 0.862, 0.868, 0.874, 0.880, 0.886, 0.892, 0.898,
    0.904, 0.910, 0.916, 0.922, 0.928, 0.934, 0.940, 0.946, 0.952, 0.958,
    0.964, 0.970, 0.976, 0.982, 0.988, 0.994, 0.904, 0.735, 0.700, 0.612,
]
phase_mag_5 = [
    12.14, 12.15, 12.17, 12.13, 12.16, 12.18, 12.15, 12.17, 12.19, 12.16,
    12.14, 12.18, 12.16, 12.13, 12.19, 12.17, 12.15, 12.20, 12.16, 12.18,
    12.14, 12.17, 12.21, 12.16, 12.19, 12.15, 12.12, 12.18, 12.20, 12.17,
    12.19, 12.16, 12.21, 12.18, 12.15, 12.12, 12.20, 12.17, 12.19, 12.21,
    12.18, 12.20, 12.22, 12.19, 12.17, 12.21, 12.20, 12.23, 12.19, 12.21,
    12.22, 12.20, 12.24, 12.21, 12.23, 12.25, 12.22, 12.24, 12.26, 12.23,
    12.25, 12.24, 12.27, 12.25, 12.28, 12.26, 12.29, 12.27, 12.25, 12.28,
    12.30, 12.27, 12.29, 12.31, 12.28, 12.30, 12.32, 12.29, 12.31, 12.33,
    12.30, 12.32, 12.34, 12.31, 12.33, 12.35, 12.32, 12.34, 12.36, 12.35,
    12.35, 12.37, 12.34, 12.36, 12.33, 12.35, 12.31, 12.29, 12.32, 12.27,
    12.25, 12.28, 12.23, 12.21, 12.24, 12.20, 12.19, 12.21, 12.18, 12.19,
    12.17, 12.13, 12.10, 12.08, 12.07, 12.06, 12.05, 12.05, 12.04, 12.05,
    12.04, 12.05, 12.04, 12.06, 12.05, 12.07, 12.08, 12.07, 12.09, 12.10,
    12.11, 12.10, 12.12, 12.14, 12.13, 12.15, 12.17, 12.14, 12.16, 12.13,
    12.15, 12.18, 12.16, 12.14, 12.19, 12.17, 12.20, 12.18, 12.21, 12.19,
    12.22, 12.24, 12.20, 12.18, 12.16, 12.19, 12.15, 12.17, 12.14, 12.16,
    12.18, 12.15, 12.17, 12.14, 12.16, 12.15, 12.24, 12.03, 12.05, 12.36,
]

star_names = ["ASASSN-V J005436.05-702535.5", "ASASSN-V J193359.68-680634.9",
              "ASASSN-V J173255.51-621040.8", "ASASSN-V J054112.57-692608.7",
              "ASASSN-V J115419.17-613118.0"]
classes = ["EW", "ROT", "EA", "EW", "DCEP"]
p_ml = ["0.55", "0.81", "0.72", "0.43", "0.36"]
votes = ["Voted as an Eclipsing Binary", "Voted as an Eclipsing Binary",
         "Voted as an Eclipsing Binary", "Voted as an Eclipsing Binary",
         "Voted as a Pulsating Variable"]
periods = ["0.365", "5.137", "8.215", "8.582", "32.813"]
mag_err = [0.04, 0.017, 0.027, 0.024, 0.018]

stars = [
    (hjd_1, mag_1, phase_1, phase_mag_1),
    (hjd_2, mag_2, phase_2, phase_mag_2),
    (hjd_3, mag_3, phase_3, phase_mag_3),
    (hjd_4, mag_4, phase_4, phase_mag_4),
    (hjd_5, mag_5, phase_5, phase_mag_5),
]

# y-axis per row: range (reversed), major step, minor step, tick0, format
y_setup = [
    ([15.83, 14.578], 0.5, 0.1, 15.0, ".1f"),
    ([13.135, 12.632], 0.2, 0.05, 12.8, ".1f"),
    ([14.319, 13.636], 0.25, 0.05, 13.75, ".2f"),
    ([13.521, 13.209], 0.15, 0.0375, 13.35, ".2f"),
    ([12.471, 11.922], 0.2, 0.05, 12.0, ".1f"),
]

W, H = 1076, 1270
LEFT, MID, RIGHT = 121, 595, 1070
TOP, BOTTOM = 6, 1202
ROW_H = (BOTTOM - TOP) / 5


def xp(px):
    return px / W


def yp(py):
    return 1 - py / H


fig = make_subplots(rows=5, cols=2, horizontal_spacing=0, vertical_spacing=0)

serif = "Liberation Serif"
tick_font = dict(family="DejaVu Sans", size=18, color="black")
axis_common = dict(showline=True, linecolor="black", linewidth=2, mirror="allticks",
                   ticks="inside", ticklen=8, tickwidth=1.5, tickcolor="black",
                   showgrid=False, zeroline=False, tickfont=tick_font)
err_color = "rgba(145,145,145,0.45)"
dot = dict(size=5, color="rgba(20,20,20,0.62)", line=dict(width=0))

annotations = []
for i, (t, m, ph, pm) in enumerate(stars):
    row = i + 1
    ebar = dict(type="constant", value=mag_err[i], color=err_color, thickness=2, width=0)
    fig.add_trace(go.Scatter(x=t, y=m, mode="markers", marker=dot, error_y=ebar,
                             showlegend=False, hoverinfo="skip"), row=row, col=1)
    fig.add_trace(go.Scatter(x=ph + [p + 1 for p in ph], y=pm + pm, mode="markers",
                             marker=dot, error_y=ebar, showlegend=False, hoverinfo="skip"),
                  row=row, col=2)

    y_top = TOP + i * ROW_H
    y_bot = y_top + ROW_H
    ydom = [yp(y_bot), yp(y_top)]
    yr, dt, mdt, t0, fmt = y_setup[i]
    bottom_row = row == 5

    fig.update_xaxes(axis_common, domain=[xp(LEFT), xp(MID)], range=[7944, 9100],
                     tick0=8000, dtick=200, showticklabels=bottom_row,
                     minor=dict(ticks="inside", ticklen=4, tickwidth=1.2, tickcolor="black",
                                tick0=8000, dtick=50, showgrid=False),
                     row=row, col=1)
    fig.update_xaxes(axis_common, domain=[xp(MID), xp(RIGHT)], range=[-0.093, 2.106],
                     tick0=0, dtick=0.5, tickformat=".1f", showticklabels=bottom_row,
                     minor=dict(ticks="inside", ticklen=4, tickwidth=1.2, tickcolor="black",
                                tick0=0, dtick=0.1, showgrid=False),
                     row=row, col=2)
    for col in (1, 2):
        fig.update_yaxes(axis_common, domain=ydom, range=yr, tick0=t0, dtick=dt,
                         tickformat=fmt, showticklabels=(col == 1),
                         minor=dict(ticks="inside", ticklen=4, tickwidth=1.2, tickcolor="black",
                                    tick0=t0, dtick=mdt, showgrid=False),
                         row=row, col=col)

    title_y = yp(y_top + 24)
    foot_y = yp(y_top + 216)
    note = dict(xref="paper", yref="paper", showarrow=False, yanchor="middle",
                font=dict(family=serif, size=20, color="black"))
    annotations += [
        dict(note, x=xp((LEFT + MID) / 2), y=title_y, text=star_names[i], xanchor="center"),
        dict(note, x=xp(1052), y=title_y, xanchor="right",
             text=f"<b>{classes[i]}</b> | <i>P</i><sub><i>ML</i></sub><i> = {p_ml[i]}</i>"),
        dict(note, x=xp(620), y=foot_y, text=f"<i>{votes[i]}</i>", xanchor="left"),
        dict(note, x=xp(1047), y=foot_y, text=f"<i>P = {periods[i]}d</i>", xanchor="right"),
    ]

label = dict(xref="paper", yref="paper", showarrow=False, xanchor="center", yanchor="middle",
             font=dict(family="DejaVu Sans", size=34, color="black"))
annotations += [
    dict(label, x=xp((LEFT + MID) / 2), y=yp(1247), text="HJD-2450000 Days"),
    dict(label, x=xp(833), y=yp(1247), text="Phase"),
    dict(label, x=xp(25), y=yp(604), textangle=-90,
         text="<span style=\"font-family:'Liberation Serif'\"><i>g</i></span>  Magnitude"),
]

fig.update_layout(width=W, height=H, margin=dict(l=0, r=0, t=0, b=0),
                  plot_bgcolor="white", paper_bgcolor="white",
                  font=dict(color="black"), annotations=annotations, showlegend=False)

# the page body has a default 8 px margin; drop it so the figure fills the window
fig.write_html("out.html", config={"displayModeBar": False},
               post_script="document.body.style.margin = '0';")
